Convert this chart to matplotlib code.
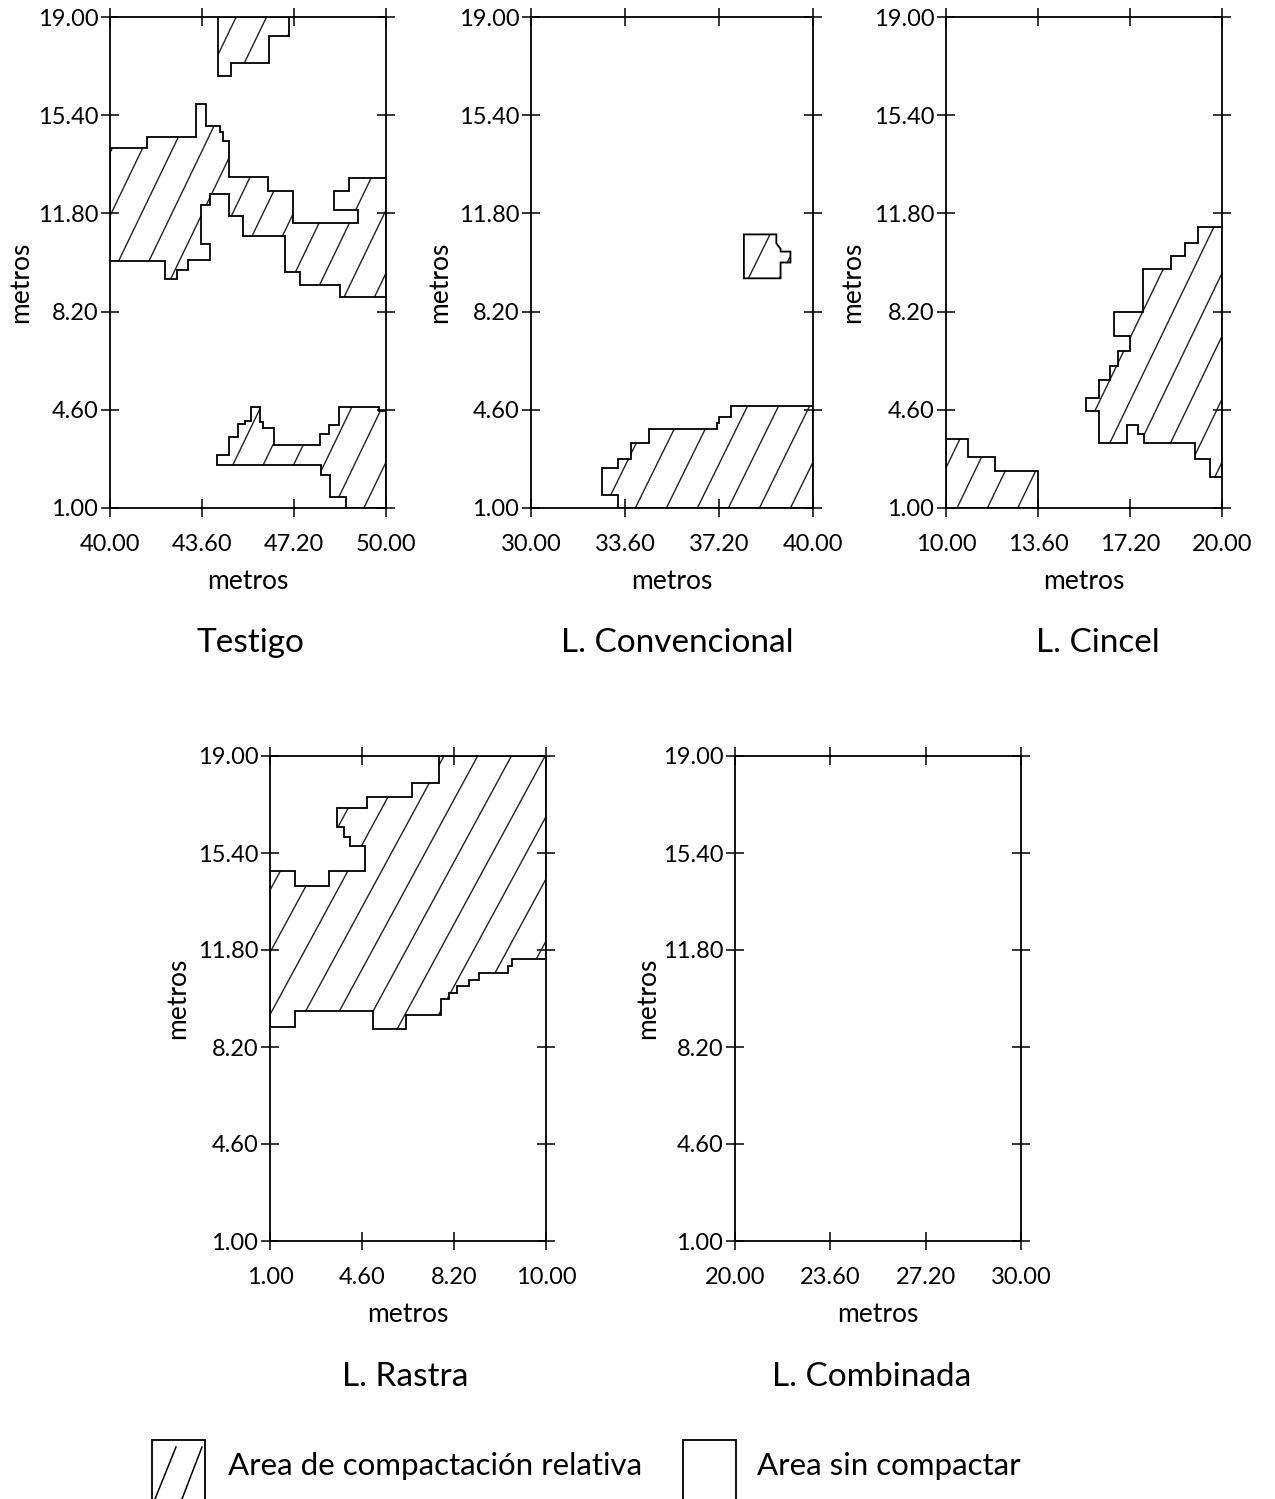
import numpy as np
import matplotlib
matplotlib.use("Agg")
import matplotlib.pyplot as plt
from matplotlib.patches import Polygon, Rectangle
from matplotlib.lines import Line2D

plt.rcParams['font.family'] = ['Lato', 'DejaVu Sans']

# --- data (metros) ---
panel_titles = ["Testigo", "L. Convencional", "L. Cincel", "L. Rastra", "L. Combinada"]
x_limits = [(40, 50), (30, 40), (10, 20), (1, 10), (20, 30)]
x_tick_labels = [["40.00", "43.60", "47.20", "50.00"],
                 ["30.00", "33.60", "37.20", "40.00"],
                 ["10.00", "13.60", "17.20", "20.00"],
                 ["1.00", "4.60", "8.20", "10.00"],
                 ["20.00", "23.60", "27.20", "30.00"]]
y_ticks = [1.0, 4.6, 8.2, 11.8, 15.4, 19.0]
y_tick_labels = ["1.00", "4.60", "8.20", "11.80", "15.40", "19.00"]

testigo_top = [(43.9, 19), (43.9, 16.85), (44.4, 16.85), (44.4, 17.3), (45.75, 17.3),
               (45.75, 18.3), (46.5, 18.3), (46.5, 19)]
testigo_mid = [(40, 14.21), (41.33, 14.21), (41.33, 14.6), (43.11, 14.6), (43.11, 15.8),
               (43.49, 15.8), (43.49, 15.02), (43.98, 15.02), (43.98, 14.8), (44.08, 14.8),
               (44.08, 14.44), (44.31, 14.44), (44.31, 13.15), (45.72, 13.15), (45.72, 12.63),
               (46.63, 12.63), (46.63, 11.46), (48.98, 11.46), (48.98, 11.91), (48.13, 11.91),
               (48.13, 12.63), (48.65, 12.63), (48.65, 13.08), (50, 13.08), (50, 8.74),
               (48.34, 8.74), (48.34, 9.19), (46.87, 9.19), (46.87, 9.65), (46.33, 9.65),
               (46.33, 10.97), (44.82, 10.97), (44.82, 11.72), (44.31, 11.72), (44.31, 12.52),
               (43.61, 12.52), (43.61, 12.11), (43.31, 12.11), (43.31, 10.68), (43.61, 10.68),
               (43.61, 10.10), (42.83, 10.10), (42.83, 9.71), (42.41, 9.71), (42.41, 9.39),
               (41.99, 9.39), (41.99, 10.04), (40, 10.04)]
testigo_low = [(43.88, 2.58), (43.88, 2.93), (44.3, 2.93), (44.3, 3.62), (44.65, 3.62),
               (44.65, 4.08), (44.9, 4.08), (44.9, 4.2), (45.12, 4.2), (45.12, 4.72),
               (45.42, 4.72), (45.42, 4.14), (45.55, 4.14), (45.55, 3.92), (45.94, 3.92),
               (45.94, 3.3), (47.6, 3.3), (47.6, 3.7), (47.95, 3.7), (47.95, 4.05),
               (48.3, 4.05), (48.3, 4.72), (49.75, 4.72), (49.75, 4.54), (50, 4.54), (50, 1),
               (48.56, 1), (48.56, 1.4), (47.96, 1.4), (47.96, 2.2), (47.65, 2.2), (47.65, 2.58)]

convencional_small = [(37.55, 9.42), (37.55, 11.03), (38.7, 11.03), (38.7, 10.7), (38.85, 10.5),
                      (38.85, 10.4), (39.2, 10.4), (39.2, 10.0), (38.85, 10.0), (38.85, 9.42)]
convencional_low = [(33.1, 1), (33.1, 1.47), (32.5, 1.47), (32.5, 2.47), (33.1, 2.47),
                    (33.1, 2.78), (33.55, 2.78), (33.55, 3.38), (34.2, 3.38), (34.2, 3.88),
                    (36.58, 3.88), (36.58, 4.12), (36.68, 4.12), (36.68, 4.35), (37.1, 4.35),
                    (37.1, 4.74), (40, 4.74), (40, 1)]

cincel_left = [(10, 1), (10, 3.53), (10.8, 3.53), (10.8, 2.88), (11.76, 2.88), (11.76, 2.37),
               (13.32, 2.37), (13.32, 1)]
cincel_right = [(15.55, 3.4), (15.55, 4.55), (15.07, 4.55), (15.07, 5.05), (15.55, 5.05),
                (15.55, 5.7), (15.95, 5.7), (15.95, 6.2), (16.22, 6.2), (16.22, 6.75),
                (16.65, 6.75), (16.65, 7.3), (16.1, 7.3), (16.1, 8.18), (17.15, 8.18),
                (17.15, 9.78), (18.16, 9.78), (18.16, 10.25), (18.65, 10.25), (18.65, 10.71),
                (19.13, 10.71), (19.13, 11.29), (20, 11.29), (20, 2.15), (19.58, 2.15),
                (19.58, 2.8), (19.03, 2.8), (19.03, 3.4), (17.17, 3.4), (17.17, 3.72),
                (16.95, 3.72), (16.95, 4.04), (16.55, 4.04), (16.55, 3.4)]

rastra_zone = [(1, 14.75), (1.82, 14.75), (1.82, 14.18), (2.92, 14.18), (2.92, 14.75),
               (4.1, 14.75), (4.1, 15.67), (3.62, 15.67), (3.62, 16.0), (3.4, 16.0),
               (3.4, 16.35), (3.2, 16.35), (3.2, 17.08), (4.15, 17.08), (4.15, 17.47),
               (5.62, 17.47), (5.62, 18.0), (6.5, 18.0), (6.5, 19), (10, 19), (10, 11.48),
               (8.9, 11.48), (8.9, 11.2), (8.76, 11.2), (8.76, 10.95), (7.8, 10.95),
               (7.8, 10.68), (7.5, 10.68), (7.5, 10.45), (7.1, 10.45), (7.1, 10.2),
               (6.85, 10.2), (6.85, 9.98), (6.57, 9.98), (6.57, 9.4), (5.45, 9.4),
               (5.45, 8.88), (4.35, 8.88), (4.35, 9.52), (1.82, 9.52), (1.82, 8.95), (1, 8.95)]

zones = [[testigo_top, testigo_mid, testigo_low],
         [convencional_small, convencional_low],
         [cincel_left, cincel_right],
         [rastra_zone],
         []]

W, H = 1275, 1499
fig = plt.figure(figsize=(W / 100, H / 100), dpi=100)


def px_rect(left, right, top, bottom):
    return [left / W, 1 - bottom / H, (right - left) / W, (bottom - top) / H]


rects = [px_rect(110, 386, 17, 508), px_rect(531, 813, 17, 508), px_rect(946, 1222, 17, 508),
         px_rect(270, 546, 756, 1241), px_rect(735, 1021, 756, 1241)]
title_pos = [(250, 643), (677, 643), (1098, 643), (405, 1377), (872, 1377)]
ylabel_pos = [(-0.28, 0.46), (-0.28, 0.46), (-0.293, 0.46), (-0.29, 0.5), (-0.262, 0.5)]

hatch_slope = 2.1
hatch_step = 1.1


def draw_zone(ax, pts, x0, x1):
    poly = Polygon(pts, closed=True, fill=False, edgecolor='black', lw=1.3, zorder=3)
    ax.add_patch(poly)
    xs = np.array([x0 - 1, x1 + 1])
    for c in np.arange(x0 - 9.5, x1 + 0.6, hatch_step):
        ln, = ax.plot(xs, 1 + hatch_slope * (xs - c), color='#222222', lw=1.0, zorder=2)
        ln.set_clip_path(poly)


for i in range(5):
    ax = fig.add_axes(rects[i])
    x0, x1 = x_limits[i]
    for pts in zones[i]:
        draw_zone(ax, pts, x0, x1)
    ax.set_xlim(x0, x1)
    ax.set_ylim(1, 19)
    ax.set_xticks(np.linspace(x0, x1, 4))
    ax.set_xticklabels(x_tick_labels[i])
    ax.set_yticks(y_ticks)
    ax.set_yticklabels(y_tick_labels)
    ax.tick_params(direction='inout', length=13, width=1.1, top=True, right=True,
                   labelsize=17)
    ax.tick_params(axis='x', pad=12)
    ax.tick_params(axis='y', pad=2)
    for s in ax.spines.values():
        s.set_linewidth(1.3)
    ax.set_xlabel("metros", fontsize=19, labelpad=10)
    ax.set_ylabel("metros", fontsize=19)
    ax.yaxis.set_label_coords(*ylabel_pos[i])
    tx, ty = title_pos[i]
    fig.text(tx / W, 1 - ty / H, panel_titles[i], fontsize=24, ha='center', va='center')

# legend at the bottom
legend_labels = ["Area de compactación relativa", "Area sin compactar"]
box_x = [152, 683]
text_x = [228, 757]
for k in range(2):
    fig.add_artist(Rectangle((box_x[k] / W, -0.02), 53 / W, (1499 - 1440) / H + 0.02,
                             transform=fig.transFigure, fill=False, edgecolor='black', lw=1.3))
    fig.text(text_x[k] / W, 1 - 1466 / H, legend_labels[k], fontsize=22.5, ha='left', va='center')
for (xa, ya, xb, yb) in [(155, 1499, 176, 1447), (182, 1499, 202, 1447)]:
    fig.add_artist(Line2D([xa / W, xb / W], [1 - ya / H, 1 - yb / H], transform=fig.transFigure,
                          color='black', lw=1.1))

fig.savefig("out.png", dpi=100, facecolor='white')
